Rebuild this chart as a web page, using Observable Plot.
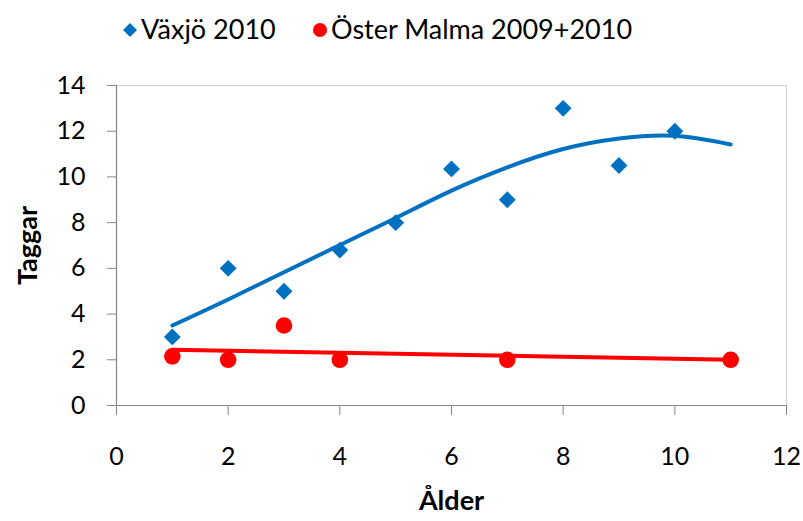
<!DOCTYPE html>
<html>
<head>
<meta charset="utf-8">
<script src="https://cdn.jsdelivr.net/npm/d3@7"></script>
<script src="https://cdn.jsdelivr.net/npm/@observablehq/plot@0.6"></script>
<style>
  html, body { margin: 0; padding: 0; background: #fff; }
  body { width: 803px; height: 521px; overflow: hidden; font-family: Lato, "Open Sans", sans-serif; }
  #legend { position: relative; height: 60px; width: 803px; }
  .li { position: absolute; top: 12px; font-size: 27px; color: #000; white-space: nowrap; line-height: 34px; }
  .li svg { vertical-align: middle; margin-right: 3px; position: relative; top: -2px; }
  #chart svg { display: block; }
</style>
</head>
<body>
<div id="legend"></div>
<div id="chart"></div>
<script>
// ---- Data ----
const seriesNames = ["Växjö 2010", "Öster Malma 2009+2010"];
const seriesColors = ["#0070C0", "#FF0000"];

const vaxjoAge = [1, 2, 3, 4, 5, 6, 7, 8, 9, 10];
const vaxjoTaggar = [3, 6, 5, 6.8, 8, 10.35, 9, 13, 10.5, 12];

const malmaAge = [1, 2, 3, 4, 7, 11];
const malmaTaggar = [2.15, 2, 3.5, 2, 2, 2];

// polynomial trendline (Växjö)
const vaxjoTrendAge = [1, 2, 3, 4, 5, 6, 7, 8, 9, 10, 11];
const vaxjoTrendVal = [3.5, 4.64, 5.83, 7.02, 8.2, 9.4, 10.42, 11.22, 11.68, 11.8, 11.42];

// linear trendline (Öster Malma)
const malmaTrendAge = [1, 11];
const malmaTrendVal = [2.44, 2.0];

const xTicks = [0, 2, 4, 6, 8, 10, 12];
const yTicks = [0, 2, 4, 6, 8, 10, 12, 14];
const xLabel = "Ålder";
const yLabel = "Taggar";

// ---- Build tables ----
const vaxjo = vaxjoAge.map((a, i) => ({age: a, v: vaxjoTaggar[i]}));
const malma = malmaAge.map((a, i) => ({age: a, v: malmaTaggar[i]}));
const vaxjoTrend = vaxjoTrendAge.map((a, i) => ({age: a, v: vaxjoTrendVal[i]}));
const malmaTrend = malmaTrendAge.map((a, i) => ({age: a, v: malmaTrendVal[i]}));

// ---- Legend ----
const legend = document.getElementById("legend");
const l1 = document.createElement("span");
l1.className = "li"; l1.style.left = "122px";
l1.innerHTML = `<svg width="16" height="16" viewBox="-8 -8 16 16"><path d="M0,-7L7,0L0,7L-7,0Z" fill="${seriesColors[0]}"/></svg>${seriesNames[0]}`;
const l2 = document.createElement("span");
l2.className = "li"; l2.style.left = "312px";
l2.innerHTML = `<svg width="16" height="16" viewBox="-8 -8 16 16"><circle r="7" fill="${seriesColors[1]}"/></svg>${seriesNames[1]}`;
legend.append(l1, l2);

// ---- Chart ----
const axisGray = "#868686";
const chart = Plot.plot({
  width: 803,
  height: 461,
  marginTop: 25,
  marginBottom: 116,
  marginLeft: 116,
  marginRight: 17,
  style: {fontFamily: "Lato, 'Open Sans', sans-serif", fontSize: "25px", color: "#000", background: "#fff"},
  x: {domain: [0, 12]},
  y: {domain: [0, 14]},
  marks: [
    Plot.frame({stroke: "#d0d0d0", strokeWidth: 1}),
    Plot.axisX({ticks: xTicks, tickSize: 10, tickPadding: 32, stroke: axisGray, fill: "#000", fontSize: 25, label: null}),
    Plot.axisY({ticks: yTicks, tickSize: 9, tickPadding: 22, stroke: axisGray, fill: "#000", fontSize: 25, label: null}),
    Plot.ruleY([0], {stroke: axisGray, strokeWidth: 1.2}),
    Plot.ruleX([0], {stroke: axisGray, strokeWidth: 1.2}),
    Plot.dot(vaxjo, {x: "age", y: "v", symbol: "diamond2", r: 7.6, fill: seriesColors[0], stroke: "none"}),
    Plot.dot(malma, {x: "age", y: "v", symbol: "circle", r: 8.3, fill: seriesColors[1], stroke: "none"}),
    Plot.line(vaxjoTrend, {x: "age", y: "v", curve: "natural", stroke: seriesColors[0], strokeWidth: 4}),
    Plot.line(malmaTrend, {x: "age", y: "v", stroke: seriesColors[1], strokeWidth: 4}),
    Plot.text([xLabel], {frameAnchor: "bottom", dy: 96, lineAnchor: "middle", fontWeight: "bold", fontSize: 27, fill: "#000"}),
    Plot.text([yLabel], {frameAnchor: "left", dx: -88, rotate: -90, lineAnchor: "middle", textAnchor: "middle", fontWeight: "bold", fontSize: 27, fill: "#000"})
  ]
});
document.getElementById("chart").append(chart);
</script>
</body>
</html>
